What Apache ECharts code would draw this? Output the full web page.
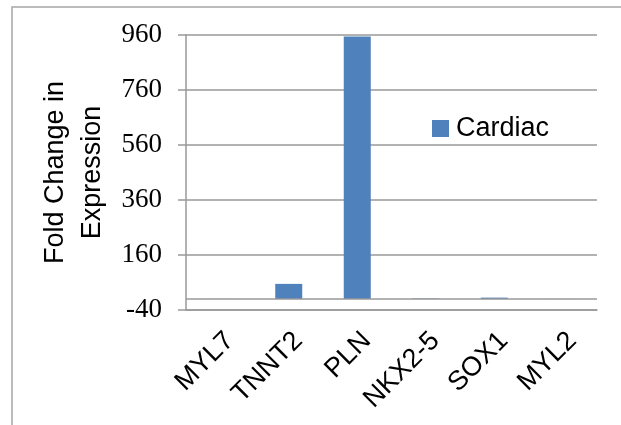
<!DOCTYPE html>
<html>
<head>
<meta charset="utf-8">
<script src="https://cdn.jsdelivr.net/npm/echarts@6/dist/echarts.min.js"></script>
<style>
html,body{margin:0;padding:0;background:#fff;}
#chart{width:621px;height:425px;}
</style>
</head>
<body>
<div id="chart"></div>
<script>
var categories = ['MYL7', 'TNNT2', 'PLN', 'NKX2-5', 'SOX1', 'MYL2'];
var cardiac = [0.5, 55, 955, 2, 5, 0.3];
var seriesName = 'Cardiac';
var yMin = -40, yMax = 960, yStep = 200;
var yTitle = 'Fold Change in\nExpression';

var gray = '#999999';
var chart = echarts.init(document.getElementById('chart'), null, {renderer: 'canvas'});
chart.setOption({
  animation: false,
  backgroundColor: '#ffffff',
  graphic: [{
    type: 'rect',
    shape: {x: 12, y: 7, width: 800, height: 600},
    style: {fill: 'none', stroke: '#a6a6a6', lineWidth: 1.5},
    silent: true
  }],
  grid: {left: 186, right: 24, top: 35, bottom: 115},
  legend: {
    data: [seriesName],
    left: 427, top: 110,
    icon: 'rect', itemWidth: 17, itemHeight: 17,
    textStyle: {fontFamily: 'Liberation Sans', fontSize: 27, color: '#000', padding: [0, 0, 0, 2]}
  },
  xAxis: {
    type: 'category',
    data: categories,
    axisLine: {onZero: false, lineStyle: {color: gray, width: 1.5}},
    axisTick: {show: false},
    axisLabel: {rotate: 45, verticalAlign: 'top', fontFamily: 'Liberation Sans', fontSize: 27, color: '#000', margin: 17, interval: 0}
  },
  yAxis: {
    type: 'value',
    min: yMin, max: yMax, interval: yStep,
    name: yTitle,
    nameLocation: 'middle',
    nameGap: 66,
    nameTextStyle: {fontFamily: 'Liberation Sans', fontSize: 27, color: '#000', lineHeight: 37},
    axisLine: {show: true, lineStyle: {color: gray, width: 1.5}},
    axisTick: {show: true, length: 8, lineStyle: {color: gray, width: 1.5}},
    axisLabel: {fontFamily: 'Liberation Serif', fontSize: 27, color: '#000', margin: 24},
    splitLine: {lineStyle: {color: gray, width: 1.5}}
  },
  series: [{
    name: seriesName,
    type: 'bar',
    data: cardiac,
    barWidth: 27,
    itemStyle: {color: '#4F81BD'},
    markLine: {
      silent: true,
      symbol: 'none',
      label: {show: false},
      lineStyle: {color: gray, width: 1.5, type: 'solid'},
      data: [{yAxis: 0}]
    }
  }]
});
</script>
</body>
</html>
